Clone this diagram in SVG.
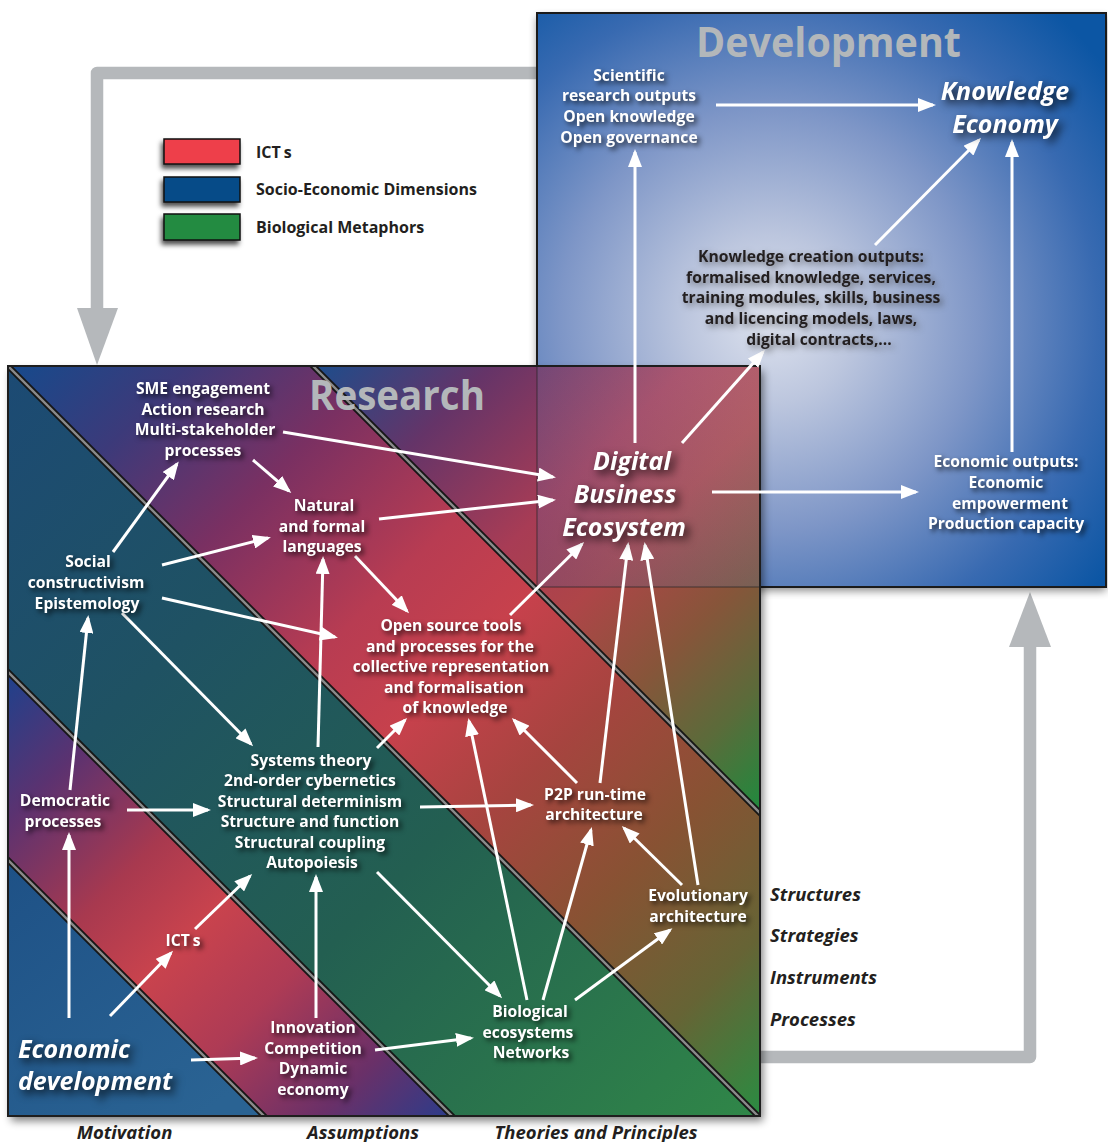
<svg xmlns="http://www.w3.org/2000/svg" width="1108" height="1142" viewBox="0 0 1108 1142">
<defs>
<style>
.t{font-family:"Open Sans","Liberation Sans",sans-serif;font-weight:700;font-size:15.7px;fill:#fff;text-anchor:middle}
.bi{font-style:italic;font-size:25px}
.dk{fill:#231f20}
.ttl{font-size:41px;fill:#b3b7ba}
.side{font-style:italic;font-size:18.5px;fill:#231f20;text-anchor:start}
.bot{font-style:italic;font-size:18.5px;fill:#231f20}
.leg{font-size:16px;fill:#231f20;text-anchor:start}
.sep{fill:none;stroke:#161616;stroke-width:6}
.sep2{fill:none;stroke:#8a8a8a;stroke-width:2.4}
.c{stroke:#fff;stroke-width:3;fill:none;marker-end:url(#ah)}
.gray{fill:none;stroke:#b5b8bb;stroke-width:12.5;stroke-linejoin:round}
.lb{stroke:#111;stroke-width:1.5}
</style>
<marker id="ah" markerUnits="userSpaceOnUse" markerWidth="18" markerHeight="14" refX="15" refY="7" orient="auto">
<path d="M0,0 L18,7 L0,14 Z" fill="#fff"/>
</marker>
<filter id="sh" x="-30%" y="-30%" width="160%" height="160%" color-interpolation-filters="sRGB">
<feGaussianBlur in="SourceAlpha" stdDeviation="2.5" result="b"/>
<feOffset in="b" dx="3" dy="3" result="o"/>
<feFlood flood-color="#000" flood-opacity="0.7"/>
<feComposite in2="o" operator="in" result="s"/>
<feMerge><feMergeNode in="s"/><feMergeNode in="SourceGraphic"/></feMerge>
</filter>
<filter id="shb" x="-30%" y="-30%" width="160%" height="160%" color-interpolation-filters="sRGB">
<feGaussianBlur in="SourceAlpha" stdDeviation="4" result="b"/>
<feOffset in="b" dx="4" dy="4" result="o"/>
<feFlood flood-color="#000" flood-opacity="0.8"/>
<feComposite in2="o" operator="in" result="s"/>
<feMerge><feMergeNode in="s"/><feMergeNode in="SourceGraphic"/></feMerge>
</filter>
<filter id="shd" x="-30%" y="-30%" width="160%" height="160%" color-interpolation-filters="sRGB">
<feGaussianBlur in="SourceAlpha" stdDeviation="3" result="b"/>
<feOffset in="b" dx="3" dy="3" result="o"/>
<feFlood flood-color="#333" flood-opacity="0.6"/>
<feComposite in2="o" operator="in" result="s"/>
<feMerge><feMergeNode in="s"/><feMergeNode in="SourceGraphic"/></feMerge>
</filter>
<filter id="boxsh" x="-10%" y="-10%" width="120%" height="120%">
<feGaussianBlur stdDeviation="4"/>
</filter>
<filter id="legsh" x="-30%" y="-50%" width="160%" height="200%" color-interpolation-filters="sRGB">
<feGaussianBlur in="SourceAlpha" stdDeviation="2.5" result="b"/>
<feOffset in="b" dx="-2" dy="4" result="o"/>
<feFlood flood-color="#000" flood-opacity="0.7"/>
<feComposite in2="o" operator="in" result="s"/>
<feMerge><feMergeNode in="s"/><feMergeNode in="SourceGraphic"/></feMerge>
</filter>
<radialGradient id="devg" gradientUnits="userSpaceOnUse" cx="770" cy="320" r="420">
<stop offset="0" stop-color="#dde2ee"/>
<stop offset="0.2" stop-color="#bcc6de"/>
<stop offset="0.5" stop-color="#7e96c7"/>
<stop offset="0.78" stop-color="#386ab1"/>
<stop offset="1" stop-color="#0c56a4"/>
</radialGradient>
<linearGradient id="g1" gradientUnits="userSpaceOnUse" x1="313" y1="366" x2="760" y2="812">
<stop offset="0" stop-color="#1c4d8c"/>
<stop offset="0.2" stop-color="#653468"/>
<stop offset="0.42" stop-color="#a83c55"/>
<stop offset="0.56" stop-color="#ae4548"/>
<stop offset="0.72" stop-color="#87553a"/>
<stop offset="0.86" stop-color="#5b6b3a"/>
<stop offset="1" stop-color="#1f8a3e"/>
</linearGradient>
<linearGradient id="g2" gradientUnits="userSpaceOnUse" x1="8" y1="366" x2="760" y2="1116">
<stop offset="0" stop-color="#164a8c"/>
<stop offset="0.12" stop-color="#3c3a7a"/>
<stop offset="0.25" stop-color="#7a3062"/>
<stop offset="0.4" stop-color="#b83c52"/>
<stop offset="0.5" stop-color="#c7414c"/>
<stop offset="0.62" stop-color="#a6443f"/>
<stop offset="0.75" stop-color="#885233"/>
<stop offset="0.88" stop-color="#666435"/>
<stop offset="1" stop-color="#2a8c42"/>
</linearGradient>
<linearGradient id="g3" gradientUnits="userSpaceOnUse" x1="8" y1="366" x2="760" y2="1116">
<stop offset="0" stop-color="#1c4a74"/>
<stop offset="0.3" stop-color="#1f5263"/>
<stop offset="0.6" stop-color="#235f51"/>
<stop offset="1" stop-color="#308748"/>
</linearGradient>
<linearGradient id="g4" gradientUnits="userSpaceOnUse" x1="8" y1="672" x2="452" y2="1116">
<stop offset="0" stop-color="#1e418c"/>
<stop offset="0.17" stop-color="#5c3270"/>
<stop offset="0.36" stop-color="#a8394f"/>
<stop offset="0.5" stop-color="#c9434d"/>
<stop offset="0.66" stop-color="#ae3b55"/>
<stop offset="0.85" stop-color="#6a3068"/>
<stop offset="1" stop-color="#2c3c8a"/>
</linearGradient>
<linearGradient id="g5" gradientUnits="userSpaceOnUse" x1="8" y1="860" x2="200" y2="1116">
<stop offset="0" stop-color="#1e5186"/>
<stop offset="1" stop-color="#2a6393"/>
</linearGradient>
<clipPath id="rclip"><rect x="8" y="366" width="752" height="750"/></clipPath>
</defs>

<rect width="1108" height="1142" fill="#fff"/>

<g id="feedback-arrows">
<path class="gray" d="M537,73 H97 V312"/>
<polygon points="77,308 118,308 97,365" fill="#b5b8bb"/>
<path class="gray" d="M750,1057 H1030 V640"/>
<polygon points="1009,647 1051,647 1030,592" fill="#b5b8bb"/>
</g>

<g id="legend">
<rect x="164" y="139" width="76" height="25" fill="#ee3f4a" class="lb" filter="url(#legsh)"/>
<rect x="164" y="177" width="76" height="25" fill="#064b88" class="lb" filter="url(#legsh)"/>
<rect x="164" y="214" width="76" height="26" fill="#238b41" class="lb" filter="url(#legsh)"/>
<text class="t leg" x="256" y="158">ICT<tspan dx="3">s</tspan></text>
<text class="t leg" x="256" y="195">Socio-Economic Dimensions</text>
<text class="t leg" x="256" y="233">Biological Metaphors</text>
</g>

<g id="development">
<rect x="537" y="17" width="569" height="574" fill="#000" opacity="0.45" filter="url(#boxsh)"/>
<rect x="537" y="13" width="569" height="574" fill="url(#devg)" stroke="#1b1b1b" stroke-width="2"/>
<text class="t ttl" x="828.5" y="57" textLength="265" lengthAdjust="spacingAndGlyphs">Development</text>
</g>

<g id="research">
<rect x="11" y="371" width="752" height="750" fill="#000" opacity="0.5" filter="url(#boxsh)"/>
<g clip-path="url(#rclip)">
<polygon points="313,366 760,366 760,813" fill="url(#g1)"/>
<polygon points="8,366 313,366 760,813 760,1116" fill="url(#g2)"/>
<polygon points="8,366 760,1118 452,1116 8,672" fill="url(#g3)"/>
<polygon points="8,672 452,1116 264,1116 8,860" fill="url(#g4)"/>
<polygon points="8,860 264,1116 8,1116" fill="url(#g5)"/>
<rect x="537" y="366" width="223" height="221" fill="url(#devg)" opacity="0.2"/>
<path d="M537,366 V587 H760" fill="none" stroke="#222" stroke-width="1.5" opacity="0.45"/>
<path class="sep" d="M4,362 L764,1122 M309,362 L764,817 M4,668 L456,1120 M4,856 L268,1120"/>
<path class="sep2" d="M4,362 L764,1122 M309,362 L764,817 M4,668 L456,1120 M4,856 L268,1120"/>
</g>
<rect x="8" y="366" width="752" height="750" fill="none" stroke="#1e1e1e" stroke-width="2"/>
<text class="t ttl" x="397" y="410" textLength="176" lengthAdjust="spacingAndGlyphs">Research</text>
</g>

<g id="connectors">
<line class="c" x1="716" y1="105" x2="933" y2="105"/>
<line class="c" x1="875" y1="245" x2="979" y2="140"/>
<line class="c" x1="1012" y1="452" x2="1012" y2="142"/>
<line class="c" x1="635" y1="443" x2="635" y2="152"/>
<line class="c" x1="682" y1="443" x2="763" y2="352"/>
<line class="c" x1="712" y1="492" x2="916" y2="492"/>
<line class="c" x1="283" y1="432" x2="553" y2="477"/>
<line class="c" x1="253" y1="460" x2="289" y2="491"/>
<line class="c" x1="379" y1="519" x2="553" y2="500"/>
<line class="c" x1="113" y1="552" x2="177" y2="464"/>
<line class="c" x1="162" y1="565" x2="268" y2="538"/>
<line class="c" x1="162" y1="598" x2="335" y2="637"/>
<line class="c" x1="355" y1="556" x2="407" y2="611"/>
<line class="c" x1="510" y1="615" x2="582" y2="544"/>
<line class="c" x1="122" y1="613" x2="251" y2="744"/>
<line class="c" x1="318" y1="747" x2="323" y2="559"/>
<line class="c" x1="377" y1="748" x2="405" y2="720"/>
<line class="c" x1="70" y1="790" x2="88" y2="618"/>
<line class="c" x1="127" y1="810" x2="208" y2="810"/>
<line class="c" x1="420" y1="807" x2="531" y2="805"/>
<line class="c" x1="69" y1="1018" x2="69" y2="835"/>
<line class="c" x1="110" y1="1016" x2="171" y2="953"/>
<line class="c" x1="195" y1="929" x2="250" y2="876"/>
<line class="c" x1="191" y1="1060" x2="255" y2="1058"/>
<line class="c" x1="316" y1="1018" x2="316" y2="877"/>
<line class="c" x1="375" y1="1050" x2="471" y2="1038"/>
<line class="c" x1="377" y1="872" x2="500" y2="996"/>
<line class="c" x1="527" y1="1000" x2="469" y2="721"/>
<line class="c" x1="543" y1="1000" x2="591" y2="830"/>
<line class="c" x1="575" y1="1000" x2="670" y2="930"/>
<line class="c" x1="577" y1="783" x2="514" y2="720"/>
<line class="c" x1="600" y1="783" x2="628" y2="545"/>
<line class="c" x1="682" y1="885" x2="624" y2="828"/>
<line class="c" x1="698" y1="885" x2="645" y2="545"/>
</g>

<g id="n-scientific" filter="url(#sh)">
<text class="t"><tspan x="629" y="81">Scientific</tspan><tspan x="629" y="101">research outputs</tspan><tspan x="629" y="122">Open knowledge</tspan><tspan x="629" y="143">Open governance</tspan></text>
</g>
<g id="n-knowledge-economy" filter="url(#shb)">
<text class="t bi" font-size="24"><tspan x="1005" y="100">Knowledge</tspan><tspan x="1005" y="133">Economy</tspan></text>
</g>
<g id="n-knowledge-creation" filter="url(#shd)">
<text class="t dk"><tspan x="811" y="262">Knowledge creation outputs:</tspan><tspan x="811" y="282.5">formalised knowledge, services,</tspan><tspan x="811" y="303">training modules, skills, business</tspan><tspan x="811" y="323.5">and licencing models, laws,</tspan><tspan x="819" y="344.5">digital contracts,...</tspan></text>
</g>
<g id="n-economic-outputs" filter="url(#sh)">
<text class="t"><tspan x="1006" y="467">Economic outputs:</tspan><tspan x="1006" y="488">Economic</tspan><tspan x="1010" y="508.5">empowerment</tspan><tspan x="1006" y="529">Production capacity</tspan></text>
</g>
<g id="n-sme" filter="url(#sh)">
<text class="t"><tspan x="203" y="394">SME engagement</tspan><tspan x="203" y="414.5">Action research</tspan><tspan x="205" y="435">Multi-stakeholder</tspan><tspan x="203" y="455.5">processes</tspan></text>
</g>
<g id="n-natural" filter="url(#sh)">
<text class="t"><tspan x="324" y="511">Natural</tspan><tspan x="322" y="531.5">and formal</tspan><tspan x="322" y="552">languages</tspan></text>
</g>
<g id="n-dbe" filter="url(#shb)">
<text class="t bi"><tspan x="632" y="470">Digital</tspan><tspan x="625" y="503">Business</tspan><tspan x="624" y="536">Ecosystem</tspan></text>
</g>
<g id="n-social" filter="url(#sh)">
<text class="t"><tspan x="88" y="567">Social</tspan><tspan x="86" y="588">constructivism</tspan><tspan x="87" y="608.5">Epistemology</tspan></text>
</g>
<g id="n-opensource" filter="url(#sh)">
<text class="t"><tspan x="451" y="631">Open source tools</tspan><tspan x="450" y="651.5">and processes for the</tspan><tspan x="451" y="672">collective representation</tspan><tspan x="454" y="692.5">and formalisation</tspan><tspan x="455" y="713">of knowledge</tspan></text>
</g>
<g id="n-systems" filter="url(#sh)">
<text class="t"><tspan x="311" y="765.5">Systems theory</tspan><tspan x="310" y="786">2nd-order cybernetics</tspan><tspan x="310" y="806.5">Structural determinism</tspan><tspan x="310" y="827">Structure and function</tspan><tspan x="310" y="847.5">Structural coupling</tspan><tspan x="312" y="868">Autopoiesis</tspan></text>
</g>
<g id="n-democratic" filter="url(#sh)">
<text class="t"><tspan x="65" y="806">Democratic</tspan><tspan x="63" y="827">processes</tspan></text>
</g>
<g id="n-p2p" filter="url(#sh)">
<text class="t"><tspan x="595" y="800">P2P run-time</tspan><tspan x="594" y="820">architecture</tspan></text>
</g>
<g id="n-evolutionary" filter="url(#sh)">
<text class="t"><tspan x="698" y="901">Evolutionary</tspan><tspan x="698" y="922">architecture</tspan></text>
</g>
<g id="n-icts" filter="url(#sh)">
<text class="t" x="183" y="946">ICT<tspan dx="3">s</tspan></text>
</g>
<g id="n-biological" filter="url(#sh)">
<text class="t"><tspan x="530" y="1017">Biological</tspan><tspan x="528" y="1038">ecosystems</tspan><tspan x="531" y="1058">Networks</tspan></text>
</g>
<g id="n-innovation" filter="url(#sh)">
<text class="t"><tspan x="313" y="1033">Innovation</tspan><tspan x="313" y="1054">Competition</tspan><tspan x="313" y="1074">Dynamic</tspan><tspan x="313" y="1094.5">economy</tspan></text>
</g>
<g id="n-economic-development" filter="url(#shb)">
<text class="t bi" font-size="24.5" style="text-anchor:start"><tspan x="18" y="1058">Economic</tspan><tspan x="18" y="1090">development</tspan></text>
</g>

<g id="side-labels">
<text class="t side" x="770" y="901">Structures</text>
<text class="t side" x="770" y="942">Strategies</text>
<text class="t side" x="770" y="984">Instruments</text>
<text class="t side" x="770" y="1026">Processes</text>
</g>
<g id="column-labels">
<text class="t bot" x="124.5" y="1139">Motivation</text>
<text class="t bot" x="363" y="1139">Assumptions</text>
<text class="t bot" x="596" y="1139">Theories and Principles</text>
</g>
</svg>
